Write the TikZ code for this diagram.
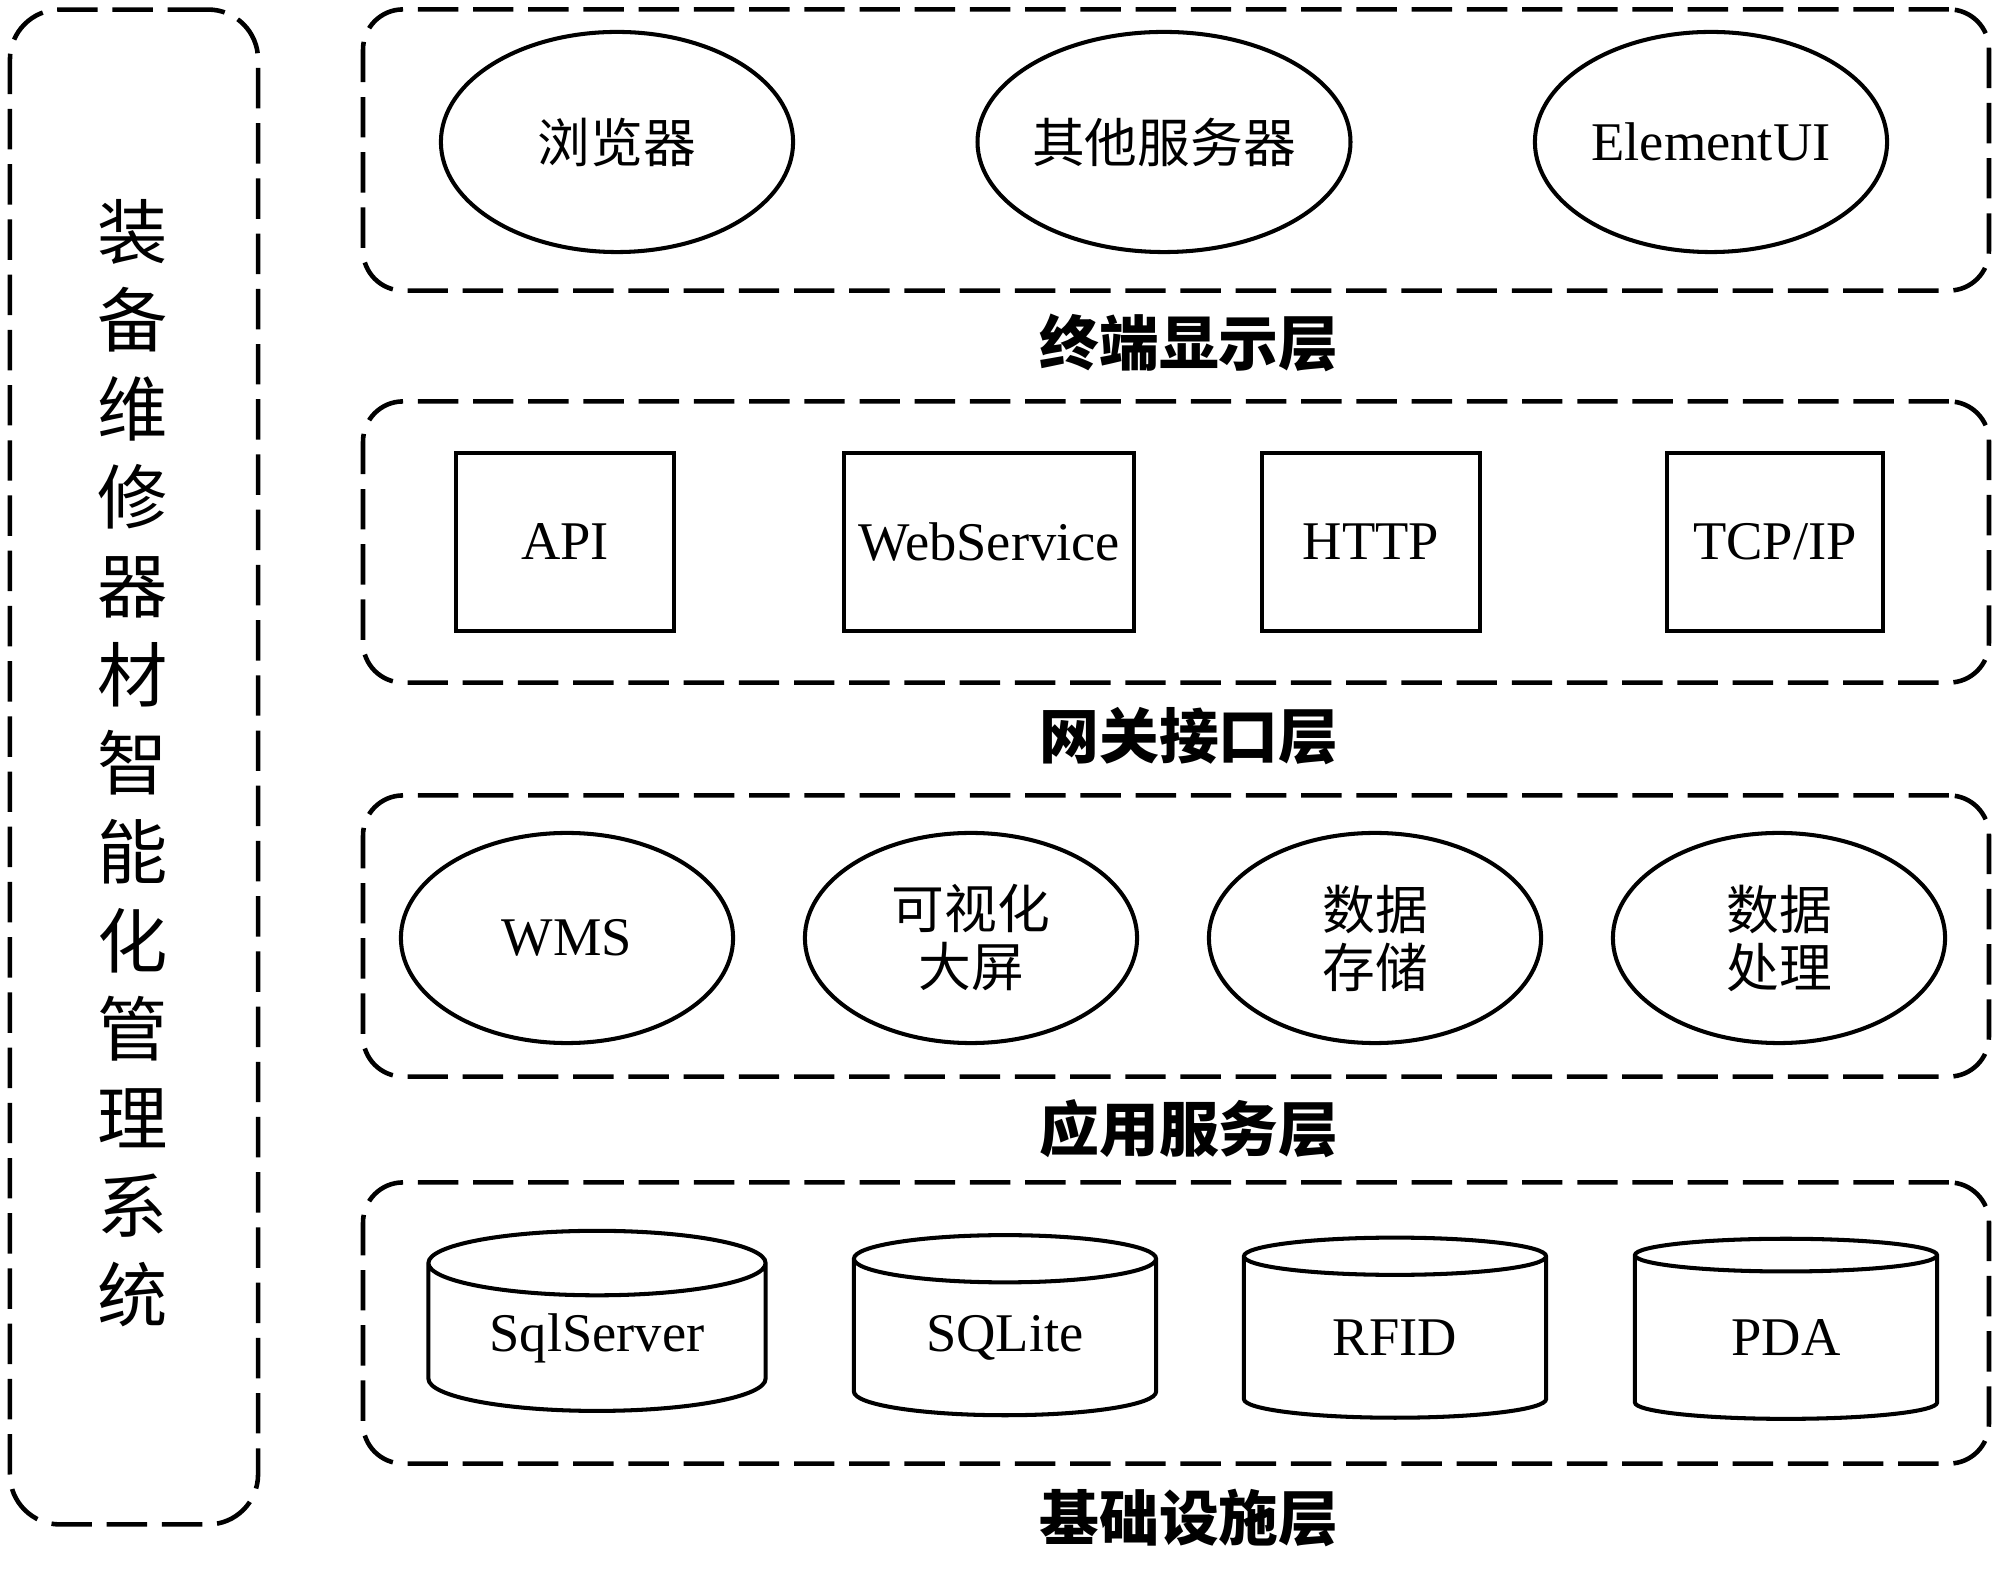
\documentclass[tikz,border=0pt]{standalone}
\usepackage{fontspec}
\setmainfont{Liberation Serif}
\newfontfamily\cjk{Noto Sans CJK SC}
\usetikzlibrary{shapes.geometric,positioning}

\begin{document}
\begin{tikzpicture}[x=0.01cm,y=-0.01cm,
  layer/.style={draw,line width=1.3pt,dash pattern=on 11.5pt off 4.2pt,rounded corners=0.4cm,
    minimum width=16.25cm,minimum height=2.81cm,inner sep=0pt},
  lname/.style={font=\cjk\bfseries\fontsize{17}{20}\selectfont,inner sep=0pt},
  ell/.style={ellipse,draw,line width=1.15pt,inner sep=0pt,align=center,
    font=\cjk\fontsize{15}{16.5}\selectfont},
  bigell/.style={ell,minimum width=3.52cm,minimum height=2.2cm},
  smell/.style={ell,minimum width=3.32cm,minimum height=2.1cm},
  iface/.style={draw,line width=1.15pt,minimum height=1.78cm,inner sep=0pt,font=\fontsize{15.5}{18}\selectfont},
  db/.style={cylinder,shape border rotate=90,draw,line width=1.15pt,aspect=0.3,inner sep=0pt,
    minimum width=3.02cm,minimum height=1.8cm,font=\fontsize{15.5}{18}\selectfont}]
\useasboundingbox (0,0) rectangle (2000,1577);
% linke Leiste
\node[layer,rounded corners=0.5cm,minimum width=2.48cm,minimum height=15.14cm] (sys) at (134,767) {};
\node[font=\cjk\fontsize{20}{25.2}\selectfont,align=center] (title) at (133,763)
  {装\\备\\维\\修\\器\\材\\智\\能\\化\\管\\理\\系\\统};
% vier Schichten
\node[layer] (L1) at (1176,150) {};
\node[layer] (L2) at (1176,542) {};
\node[layer] (L3) at (1176,936) {};
\node[layer] (L4) at (1176,1323) {};
\node[lname] (n1) at (1189,343) {终端显示层};
\node[lname] (n2) at (1189,736) {网关接口层};
\node[lname] (n3) at (1189,1129) {应用服务层};
\node[lname] (n4) at (1189,1518) {基础设施层};
% Schicht 1
\node[bigell] (browser) at (617,142) {浏览器};
\node[bigell] (other) at (1164,142) {其他服务器};
\node[bigell,font=\fontsize{15.5}{18}\selectfont] (eui) at (1711,142) {ElementUI};
% Schicht 2
\node[iface,minimum width=2.17cm] (api) at (565,542) {API};
\node[iface,minimum width=2.89cm] (ws) at (989,542) {WebService};
\node[iface,minimum width=2.17cm] (http) at (1371,542) {HTTP};
\node[iface,minimum width=2.16cm] (tcp) at (1775,542) {TCP/IP};
% Schicht 3
\node[smell,font=\fontsize{15.5}{18}\selectfont] (wms) at (567,938) {WMS};
\node[smell] (vis) at (971,938) {可视化\\大屏};
\node[smell] (store) at (1375,938) {数据\\存储};
\node[smell] (proc) at (1779,938) {数据\\处理};
% Schicht 4
\node[db,minimum width=3.37cm] (sql) at (597,1338) {SqlServer};
\node[db] (lite) at (1005,1338) {SQLite};
\node[db] (rfid) at (1395,1338) {RFID};
\node[db] (pda) at (1786,1338) {PDA};
\end{tikzpicture}
\end{document}
